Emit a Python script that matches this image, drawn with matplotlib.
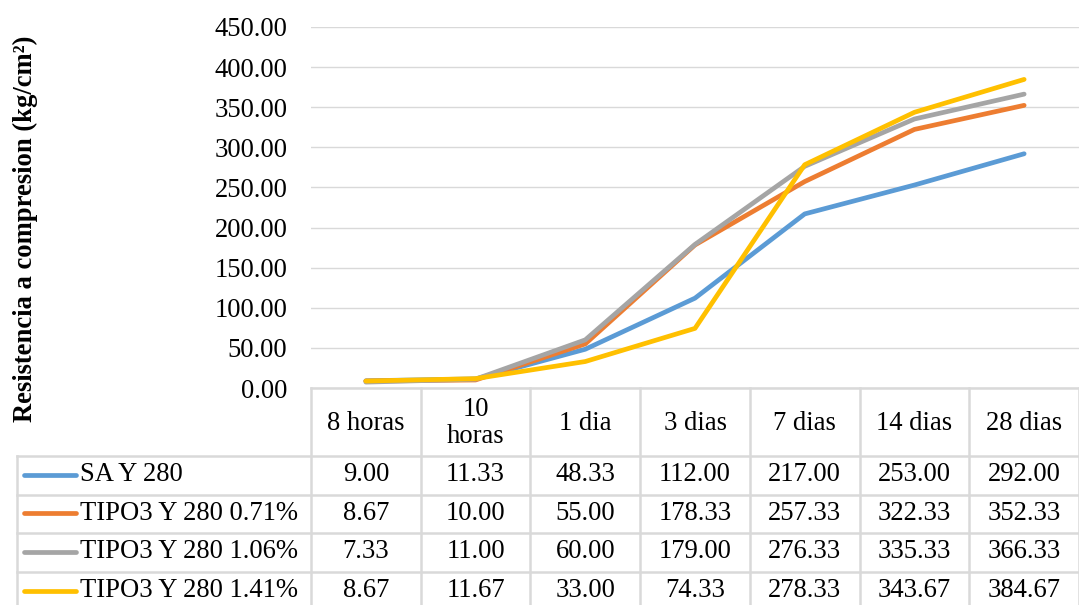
import matplotlib
matplotlib.use("Agg")
import matplotlib.pyplot as plt
from matplotlib.lines import Line2D
from matplotlib.transforms import blended_transform_factory

categories = ["8 horas", "10\nhoras", "1 dia", "3 dias", "7 dias", "14 dias", "28 dias"]
series_names = ["SA Y 280", "TIPO3 Y 280 0.71%", "TIPO3 Y 280 1.06%", "TIPO3 Y 280 1.41%"]
sa_280 = [9.00, 11.33, 48.33, 112.00, 217.00, 253.00, 292.00]
tipo3_071 = [8.67, 10.00, 55.00, 178.33, 257.33, 322.33, 352.33]
tipo3_106 = [7.33, 11.00, 60.00, 179.00, 276.33, 335.33, 366.33]
tipo3_141 = [8.67, 11.67, 33.00, 74.33, 278.33, 343.67, 384.67]
series_values = [sa_280, tipo3_071, tipo3_106, tipo3_141]
colors = ["#5B9BD5", "#ED7D31", "#A5A5A5", "#FFC000"]
yticks = [0, 50, 100, 150, 200, 250, 300, 350, 400, 450]

plt.rcParams['font.family'] = ['Liberation Serif', 'DejaVu Serif']
FS = 19.2

W, H = 1079, 605
fig = plt.figure(figsize=(W / 100, H / 100), dpi=100)

def fx(px):
    return px / W

def fy(py):
    return 1 - py / H

left, right = 311, 1079
top, bottom = 27, 388
ax = fig.add_axes([fx(left), fy(bottom), fx(right) - fx(left), (bottom - top) / H])
ax.set_xlim(-0.5, len(categories) - 0.5)
ax.set_ylim(0, 450)
ax.set_yticks(yticks)
ax.set_yticklabels([f"{v:.2f}" for v in yticks], fontsize=FS)
ax.tick_params(axis='y', length=0, pad=17)
ax.set_xticks([])
for s in ax.spines.values():
    s.set_visible(False)
ax.grid(axis='y', color='#D9D9D9', linewidth=1)
ax.set_axisbelow(True)

x = list(range(len(categories)))
for vals, c in zip(series_values, colors):
    ax.plot(x, vals, color=c, linewidth=3.4, solid_capstyle='round', solid_joinstyle='round', zorder=3)

fig.text(fx(25), fy(229), "Resistencia a compresion (kg/cm²)", rotation=90,
         ha='center', va='center', fontsize=FS, fontweight='bold')

# Table
tr = blended_transform_factory(ax.transData, fig.transFigure)
grid_c = '#D9D9D9'
lw = 1.8
header_top, header_bot = 388, 456
row_edges = [456, 495, 533, 572, 611]
n = len(categories)

for i in range(n + 1):
    xv = i - 0.5
    fig.add_artist(Line2D([xv, xv], [fy(header_top), fy(H + 10)], transform=tr, color=grid_c, linewidth=lw))
fig.add_artist(Line2D([-0.5, n - 0.5], [fy(header_top), fy(header_top)], transform=tr, color=grid_c, linewidth=lw))
legend_left = 17
for r in row_edges:
    fig.add_artist(Line2D([fx(legend_left), fx(right)], [fy(r), fy(r)], transform=fig.transFigure,
                          color=grid_c, linewidth=lw))
fig.add_artist(Line2D([fx(legend_left), fx(legend_left)], [fy(row_edges[0]), fy(H + 10)],
                      transform=fig.transFigure, color=grid_c, linewidth=lw))

for i, cat in enumerate(categories):
    fig.text(i, fy((header_top + header_bot) / 2 + 1), cat, transform=tr, ha='center', va='center',
             fontsize=FS, linespacing=1.1)

for k, (name, vals, c) in enumerate(zip(series_names, series_values, colors)):
    yc = fy((row_edges[k] + row_edges[k + 1]) / 2 - 1)
    fig.add_artist(Line2D([fx(24), fx(76)], [yc, yc], transform=fig.transFigure, color=c,
                          linewidth=3.4, solid_capstyle='round'))
    fig.text(fx(80), yc, name, ha='left', va='center', fontsize=FS)
    for i, v in enumerate(vals):
        fig.text(i, yc, f"{v:.2f}", transform=tr, ha='center', va='center', fontsize=FS)

fig.savefig("out.png", dpi=100)
